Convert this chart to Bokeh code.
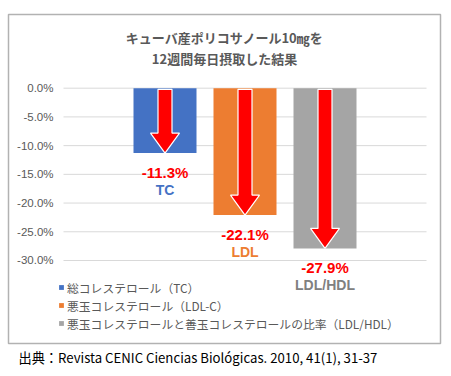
from bokeh.plotting import figure
from bokeh.models import (Range1d, FixedTicker, PrintfTickFormatter, Label, BoxAnnotation,
                          Legend, LegendItem)
from bokeh.core.properties import value
from bokeh.embed import file_html
from bokeh.resources import INLINE

# ---- data ----
short_labels = ["TC", "LDL", "LDL/HDL"]
legend_labels = ["総コレステロール（TC）", "悪玉コレステロール（LDL-C）",
                 "悪玉コレステロールと善玉コレステロールの比率（LDL/HDL）"]
changes = [-11.3, -22.1, -27.9]
value_texts = ["-11.3%", "-22.1%", "-27.9%"]
y_ticks = [0, -5, -10, -15, -20, -25, -30]
title_lines = ["キューバ産ポリコサノール10㎎を", "12週間毎日摂取した結果"]
source_text = "出典：Revista CENIC Ciencias Biológicas. 2010, 41(1), 31-37"

# ---- styles / geometry ----
bar_colors = ["#4472C4", "#ED7D31", "#A5A5A5"]
sub_colors = ["#4472C4", "#ED7D31", "#808080"]
JP = "Noto Sans CJK JP"
NUM = "Liberation Sans"

W, H = 451, 376
xs = list(range(len(changes)))
unit_px = 80.0            # px per bar step
center_px = 244.5         # canvas x of the middle bar
zero_px = 87.7            # canvas y of 0 %
px_per_pct = 5.743
plot_left_px, plot_right_px = 63, 426


def dx(px):
    return 1 + (px - center_px) / unit_px


p = figure(width=W, height=H, output_backend="svg", toolbar_location=None,
           min_border=0, min_border_left=0, min_border_right=0, min_border_top=0,
           min_border_bottom=0,
           x_range=Range1d(dx(0), dx(W)),
           y_range=Range1d(-(H - zero_px) / px_per_pct, zero_px / px_per_pct))
p.outline_line_color = None
p.background_fill_color = "white"
p.border_fill_color = "white"
p.xaxis.visible = False
p.xgrid.grid_line_color = None
p.ygrid.grid_line_color = None

# y axis drawn at the left edge of the plot area
p.yaxis.fixed_location = dx(plot_left_px)
p.yaxis.ticker = FixedTicker(ticks=y_ticks)
p.yaxis.formatter = PrintfTickFormatter(format="%.1f%%")
p.yaxis.axis_line_color = None
p.yaxis.major_tick_line_color = None
p.yaxis.minor_tick_line_color = None
p.yaxis.major_tick_out = 0
p.yaxis.major_tick_in = 0
p.yaxis.major_label_standoff = 10
p.yaxis.major_label_text_font = NUM
p.yaxis.major_label_text_font_size = "11.5px"
p.yaxis.major_label_text_color = "#595959"

# gridlines at the tick values
p.segment(x0=dx(plot_left_px), x1=dx(plot_right_px), y0=y_ticks, y1=y_ticks,
          line_color="#D9D9D9", line_width=1)

items = []
for x, v, c, lab in zip(xs, changes, bar_colors, legend_labels):
    r = p.vbar(x=[x], top=[0], bottom=[v], width=63 / unit_px, fill_color=c, line_color=None)
    items.append(LegendItem(label=lab, renderers=[r]))

# arrows
shaft_hw = 7 / unit_px
head_hw = 14.5 / unit_px
head_h = 20 / px_per_pct
axs, ays = [], []
for x, v in zip(xs, changes):
    axs.append([x - shaft_hw, x + shaft_hw, x + shaft_hw, x + head_hw, x, x - head_hw, x - shaft_hw])
    ays.append([-0.2, -0.2, v + head_h, v + head_h, v, v + head_h, v + head_h])
p.patches(axs, ays, fill_color="#FF0000", line_color="white", line_width=1.2)

# value labels
p.text(x=xs, y=changes, text=value_texts, y_offset=19, text_align="center",
       text_baseline="middle", text_color="#FF0000", text_font=value(NUM),
       text_font_style="bold", text_font_size="15px")
p.text(x=xs, y=changes, text=short_labels, y_offset=37, text_align="center",
       text_baseline="middle", text_color=sub_colors, text_font=value(NUM),
       text_font_style="bold", text_font_size="14px")

# legend
leg = Legend(items=items, location=(58, H - 331.5), orientation="vertical",
             glyph_width=6, glyph_height=6, label_height=12, spacing=1, padding=0, margin=0,
             label_standoff=3, label_text_font=JP, label_text_font_size="11.8px",
             label_text_color="#595959", border_line_color=None, background_fill_alpha=0)
p.add_layout(leg, "center")

# title (canvas units, y from top)
for i, t in enumerate(title_lines):
    p.add_layout(Label(x=224, y=37 + 20.5 * i, x_units="canvas", y_units="canvas", text=t,
                       text_align="center", text_baseline="middle", text_font=JP,
                       text_font_style="bold", text_font_size="13px", text_color="#595959"))

# chart border
p.add_layout(BoxAnnotation(left=8, right=440, top=14, bottom=343, left_units="canvas",
                           right_units="canvas", bottom_units="canvas", top_units="canvas",
                           fill_alpha=0, line_color="black", line_width=1.5))

# source
p.add_layout(Label(x=18, y=357, x_units="canvas", y_units="canvas", text=source_text,
                   text_align="left", text_baseline="middle", text_font=JP,
                   text_font_size="13.2px", text_color="#000000"))

open("out.html", "w").write(file_html(p, INLINE))
